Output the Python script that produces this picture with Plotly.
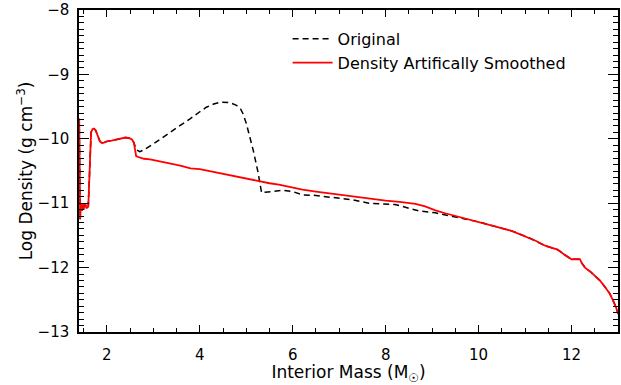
import plotly.graph_objects as go

# Interior mass coordinate (solar masses) and log density (g cm^-3)
mass_smoothed = [1.405, 1.415, 1.425, 1.44, 1.46, 1.48, 1.50, 1.53, 1.56, 1.60, 1.62, 1.64, 1.66,
                 1.69, 1.72, 1.76, 1.80, 1.85, 1.90, 1.95, 2.0, 2.1, 2.2, 2.3, 2.4, 2.48, 2.54,
                 2.58, 2.61, 2.63, 2.7, 2.8, 2.93, 3.0, 3.2, 3.4, 3.6, 3.8, 4.0, 4.2, 4.4, 4.64,
                 4.8, 5.0, 5.2, 5.4, 5.5, 5.7, 5.9, 6.21, 6.5, 6.93, 7.3, 7.64, 8.0, 8.3, 8.64,
                 8.85, 9.07, 9.3, 9.6, 9.79, 10.0, 10.35, 10.71, 11.07, 11.25, 11.43, 11.6, 11.7,
                 11.85, 12.0, 12.1, 12.18, 12.22, 12.29, 12.4, 12.5, 12.61, 12.72, 12.82, 12.9,
                 12.96, 13.0]
logrho_smoothed = [-9.69, -10.4, -11.25, -11.0, -11.12, -11.02, -11.1, -11.0, -11.08, -11.05,
                   -10.6, -10.1, -9.9, -9.85, -9.84, -9.87, -9.95, -10.04, -10.07, -10.05, -10.04,
                   -10.03, -10.01, -10.0, -9.98, -9.99, -10.01, -10.06, -10.2, -10.27, -10.29,
                   -10.31, -10.32, -10.33, -10.35, -10.39, -10.42, -10.46, -10.47, -10.5, -10.53,
                   -10.56, -10.59, -10.61, -10.64, -10.67, -10.69, -10.71, -10.74, -10.79, -10.82,
                   -10.86, -10.9, -10.93, -10.96, -10.98, -11.01, -11.05, -11.11, -11.16, -11.22,
                   -11.25, -11.29, -11.36, -11.43, -11.53, -11.59, -11.66, -11.7, -11.72, -11.8,
                   -11.87, -11.87, -11.87, -11.93, -12.0, -12.06, -12.12, -12.2, -12.3, -12.4,
                   -12.52, -12.62, -12.72]

mass_original = [1.405, 1.415, 1.425, 1.44, 1.46, 1.48, 1.50, 1.53, 1.56, 1.60, 1.62, 1.64, 1.66,
                 1.69, 1.72, 1.76, 1.80, 1.85, 1.90, 1.95, 2.0, 2.1, 2.2, 2.3, 2.4, 2.48, 2.54,
                 2.58, 2.61, 2.66, 2.71, 2.8, 3.0, 3.3, 3.6, 3.79, 4.0, 4.14, 4.3, 4.46, 4.65,
                 4.79, 4.88, 4.93, 5.0, 5.07, 5.15, 5.25, 5.3, 5.33, 5.4, 5.55, 5.78, 6.0, 6.21,
                 6.5, 6.93, 7.3, 7.64, 8.0, 8.2, 8.36, 8.6, 8.71, 9.07, 9.4, 9.79, 10.0, 10.35,
                 10.71, 11.07, 11.25, 11.43, 11.6, 11.7, 11.85, 12.0, 12.1, 12.18, 12.22, 12.29,
                 12.4, 12.5, 12.61, 12.72, 12.82, 12.9, 12.96, 13.0]
logrho_original = [-9.69, -10.4, -11.25, -11.0, -11.12, -11.02, -11.1, -11.0, -11.08, -11.05,
                   -10.6, -10.1, -9.9, -9.85, -9.84, -9.87, -9.95, -10.04, -10.07, -10.05, -10.04,
                   -10.03, -10.01, -10.0, -9.98, -9.99, -10.01, -10.06, -10.12, -10.18, -10.2,
                   -10.17, -10.08, -9.93, -9.79, -9.69, -9.58, -9.51, -9.46, -9.43, -9.44, -9.48,
                   -9.54, -9.61, -9.76, -9.94, -10.18, -10.51, -10.72, -10.84, -10.83, -10.82,
                   -10.8, -10.82, -10.87, -10.88, -10.92, -10.95, -11.0, -11.02, -11.02, -11.05,
                   -11.1, -11.12, -11.15, -11.2, -11.25, -11.29, -11.36, -11.43, -11.53, -11.59,
                   -11.66, -11.7, -11.72, -11.8, -11.87, -11.87, -11.87, -11.93, -12.0, -12.06,
                   -12.12, -12.2, -12.3, -12.4, -12.52, -12.62, -12.72]

FONT = "DejaVu Sans"

fig = go.Figure()
fig.add_trace(go.Scatter(
    x=mass_original, y=logrho_original, mode="lines", name="Original",
    line=dict(color="black", width=1.5, dash="6px,4px"),
))
fig.add_trace(go.Scatter(
    x=mass_smoothed, y=logrho_smoothed, mode="lines", name="Density Artifically Smoothed",
    line=dict(color="#ff0000", width=1.8),
))

axis_common = dict(
    showline=True, linecolor="black", linewidth=1.5, mirror="allticks",
    ticks="inside", tickcolor="black", tickwidth=1.2,
    showgrid=False, zeroline=False,
    tickfont=dict(family=FONT, size=15, color="black"),
    ticklabeloverflow="allow",
)

fig.update_xaxes(
    range=[1.4, 13], dtick=2, tick0=0, ticklen=7,
    minor=dict(dtick=0.5, tick0=0, ticks="inside", ticklen=4, tickcolor="black", tickwidth=1.2, showgrid=False),
    title=dict(text="Interior Mass (M<sub>☉</sub>)", font=dict(family=FONT, size=17, color="black"), standoff=1),
    ticklabelstandoff=8,
    **axis_common,
)
fig.update_yaxes(
    range=[-13, -8], dtick=1, tick0=0, ticklen=10,
    minor=dict(dtick=0.1, tick0=0, ticks="inside", ticklen=5, tickcolor="black", tickwidth=1.2, showgrid=False),
    title=dict(text="Log Density (g cm<sup>−3</sup>)", font=dict(family=FONT, size=17, color="black"), standoff=1),
    ticklabelstandoff=5,
    **axis_common,
)

fig.update_layout(
    width=621, height=385,
    margin=dict(l=79, r=1, t=7, b=53),
    paper_bgcolor="white", plot_bgcolor="white",
    showlegend=True,
    legend=dict(
        x=0.387, y=0.963, xanchor="left", yanchor="top",
        bgcolor="rgba(0,0,0,0)", borderwidth=0,
        font=dict(family=FONT, size=16, color="black"),
        itemwidth=40, tracegroupgap=4,
    ),
)

fig.write_html("out.html")
